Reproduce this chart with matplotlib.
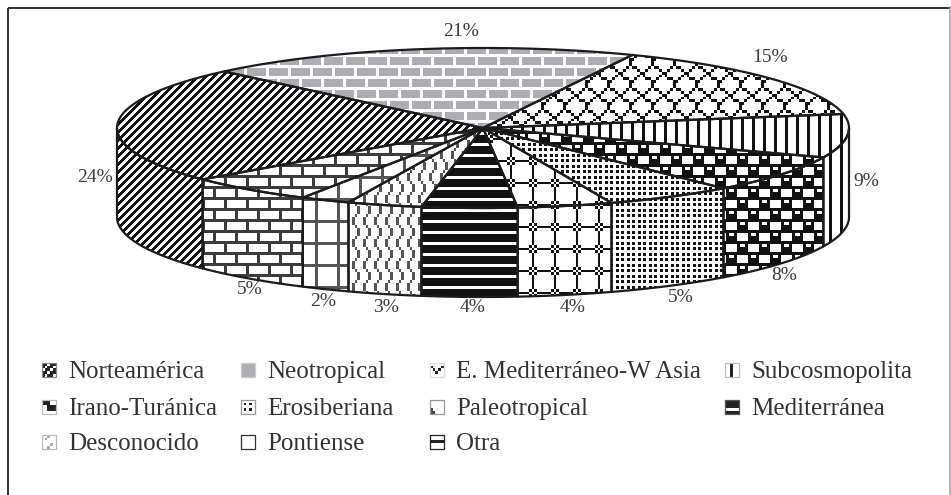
import numpy as np
import matplotlib
matplotlib.use('Agg')
import matplotlib.pyplot as plt
from matplotlib.patches import Polygon, Rectangle

plt.rcParams['font.family'] = ['Liberation Serif', 'DejaVu Serif']

categories = ['Norteamérica', 'Neotropical', 'E. Mediterráneo-W Asia', 'Subcosmopolita',
              'Irano-Turánica', 'Erosiberiana', 'Paleotropical', 'Mediterránea',
              'Desconocido', 'Pontiense', 'Otra']
# slice shares as measured on the drawing, printed labels differ a bit
shares = [23.6, 19.2, 15.5, 8.8, 7.6, 5.7, 4.2, 4.2, 3.3, 2.2, 5.7]
labels = [24, 21, 15, 9, 8, 5, 4, 4, 3, 2, 5]

W, H = 951, 495
CX, CY, RX, RY, DEPTH = 483, 128, 366, 80, 89
START = 220
CELL = 2.75
INK = '#1c1c1c'

# fill bitmaps: (rows, colour, x phase, y phase, cell size)
PATTERNS = {
    'Norteamérica': (['####....', '###....#', '##....##', '#....###',
                      '....####', '...####.', '..####..', '.####...'], '#111111', 0, 0, 1),
    'Neotropical': (['#######.', '#######.', '#######.', '........',
                     '###.####', '###.####', '###.####', '........'], '#aeaeb2', 5, 2, CELL),
    'E. Mediterráneo-W Asia': (['##......', '.#.....#', '..##..#.', '....##..',
                                '....#...', '....#...', '...#.##.', '..#....#'], '#111111', 2, 6, CELL),
    'Subcosmopolita': (['#...'], '#111111', 4, 0, CELL),
    'Irano-Turánica': (['....#..#', '....####', '....####', '########',
                        '#..#....', '####....', '####....', '########'], '#111111', 0, 2, CELL),
    'Erosiberiana': (['#.', '..'], '#111111', 0, 0, CELL),
    'Paleotropical': (['...#....', '...#....', '..#.#...', '##.#.###',
                       '..#.#...', '...#....', '...#....', '...#....'], '#111111', 523.4, 217.4, CELL),
    'Mediterránea': (['#', '#', '#', '.'], '#111111', 0, 3, CELL),
    'Desconocido': (['#...', '#...', '.#..', '..#.', '..#.', '..#.', '.#..', '#...'], '#555555', 0, 0, CELL),
    'Pontiense': (['########', '#.......', '#.......', '#.......',
                   '#.......', '#.......', '#.......', '#.......'], '#555555', 315, 220, CELL),
    'Otra': (['#.......', '#.......', '#.......', '########',
              '....#...', '....#...', '....#...', '########'], '#3c3c3c', 4, 2, CELL),
}

# legend keys are small crops of each fill, five cells across
SWATCHES = {
    'Norteamérica': (['##.##', '#.##.', '.##.#', '##.##', '#.##.'], '#222222', '#888888'),
    'Neotropical': (['#'], '#aeaeb2', '#cccccc'),
    'E. Mediterráneo-W Asia': (['.....', '#...#', '.#.#.', '..#..', '.....'], '#222222', '#dddddd'),
    'Subcosmopolita': (['..#..'], '#222222', '#bbbbbb'),
    'Irano-Turánica': (['###..', '###..', '..###', '..###', '.....'], '#222222', '#bbbbbb'),
    'Erosiberiana': (['.....', '.#.#.', '.....', '.#.#.', '.....'], '#222222', '#999999'),
    'Paleotropical': (['.....', '.....', '.....', '#....', '##...'], '#444444', '#999999'),
    'Mediterránea': (['#####', '#####', '#####', '.....', '#####'], '#222222', '#555555'),
    'Desconocido': (['..#..', '.#...', '.....', '...#.', '..#..'], '#aaaaaa', '#bbbbbb'),
    'Pontiense': (['.'], '#222222', '#333333'),
    'Otra': (['.....', '.....', '#####', '.....', '.....'], '#222222', '#222222'),
}

label_pos = [(95, 177), (461, 32), (770, 58), (866, 182), (784, 275), (681, 297),
             (573, 308), (473, 308), (386, 307), (323, 301), (250, 290)]

legend_cols = [42, 241, 430, 725]
legend_rows = [370, 407, 442]
legend_order = [(0, 0), (1, 0), (2, 0), (3, 0), (0, 1), (1, 1), (2, 1), (3, 1), (0, 2), (1, 2), (2, 2)]

yy, xx = np.indices((H, W))


def texture(bitmap, colour, ox=0, oy=0, cell=CELL):
    bits = np.array([[c == '#' for c in row] for row in bitmap])
    rows, cols = bits.shape
    on = bits[np.floor((yy + 0.5 - oy) / cell).astype(int) % rows,
              np.floor((xx + 0.5 - ox) / cell).astype(int) % cols]
    img = np.ones((H, W, 3))
    img[on] = matplotlib.colors.to_rgb(colour)
    return img


def filled(ax, pts, img, edge=INK, lw=1.6):
    poly = Polygon(pts, closed=True, facecolor='none', edgecolor=edge, linewidth=lw,
                   joinstyle='round', zorder=3)
    ax.add_patch(poly)
    im = ax.imshow(img, extent=(0, W, H, 0), interpolation='nearest', aspect='auto', zorder=2)
    im.set_clip_path(poly)


fig = plt.figure(figsize=(W / 100, H / 100), dpi=100)
ax = fig.add_axes([0, 0, 1, 1])

textures = {c: texture(*PATTERNS[c]) for c in categories}

angles = START - np.cumsum([0] + shares) * 3.6
for i, cat in enumerate(categories):
    t = np.radians(np.linspace(angles[i], angles[i + 1], 240))
    x, y = CX + RX * np.cos(t), CY - RY * np.sin(t)
    low = np.sin(t) <= 1e-9
    if low.sum() > 1:
        side = np.r_[np.c_[x[low], y[low]], np.c_[x[low], y[low] + DEPTH][::-1]]
        filled(ax, side, textures[cat])
    filled(ax, np.r_[[[CX, CY]], np.c_[x, y]], textures[cat])

for lab, (px, py) in zip(labels, label_pos):
    ax.text(px, py, '%d%%' % lab, ha='center', va='center', fontsize=14, color='#3a3a3a')

for cat, (c, r) in zip(categories, legend_order):
    sx, sy = legend_cols[c], legend_rows[r]
    bitmap, colour, edge = SWATCHES[cat]
    swatch = [(sx, sy - 7), (sx + 14, sy - 7), (sx + 14, sy + 7), (sx, sy + 7)]
    filled(ax, swatch, texture(bitmap, colour, sx, sy - 7), edge=edge, lw=0.9)
    ax.text(sx + 26, sy + 2, cat, ha='left', va='center', fontsize=18, color='#333333')

ax.add_patch(Rectangle((7.5, 7.5), W + 20, H + 20, facecolor='none', edgecolor='#222222', linewidth=1.3, zorder=4))
ax.plot([950, 950], [7, H], color='#aaaaaa', lw=1.2, zorder=4)

ax.set_xlim(0, W)
ax.set_ylim(H, 0)
ax.axis('off')
fig.savefig('out.png', dpi=100)
